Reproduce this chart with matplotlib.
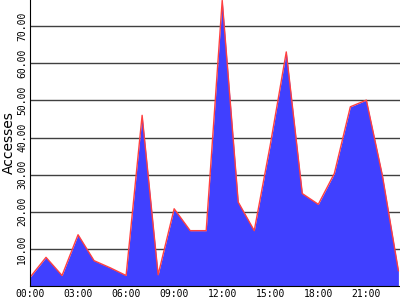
import matplotlib
matplotlib.use('Agg')
import numpy as np
from matplotlib import pyplot as plt

# accesses per hour
hours = list(range(24))
accesses = [2.3, 7.7, 2.8, 13.8, 6.8, 4.9, 2.8, 46.0, 3.0, 20.8, 14.9, 14.9,
            77.0, 22.6, 14.9, 38.0, 63.1, 24.9, 22.0, 30.3, 48.3, 50.1, 29.8, 4.1]
tick_hours = [0, 3, 6, 9, 12, 15, 18, 21]
tick_labels = ['%02d:00' % h for h in tick_hours]
grid_vals = [10, 20, 30, 40, 50, 60, 70]

fig = plt.figure(figsize=(4, 3), dpi=100)
ax = fig.add_axes([0.075, 0.047, 0.925, 0.953])

ax.fill_between(hours, accesses, 0, color='#4040ff', linewidth=0)
ax.plot(hours, accesses, color='#ff4040', linewidth=1)

ax.set_xlim(0, 23.1)
ax.set_ylim(0, 77.1)

for v in grid_vals:
    ax.axhline(v, color='#404040', linewidth=1, zorder=0)

ax.set_xticks(tick_hours)
ax.set_xticklabels(tick_labels, family='DejaVu Sans Mono', fontsize=7)
ax.set_yticks(grid_vals)
ax.set_yticklabels(['%.2f' % v for v in grid_vals], family='DejaVu Sans Mono',
                   fontsize=7, rotation=90, va='center')
ax.tick_params(length=0, pad=2)

ax.set_ylabel('Accesses', fontsize=10, color='black', labelpad=1)

ax.spines['top'].set_visible(False)
ax.spines['right'].set_visible(False)

fig.savefig('out.png', dpi=100)
